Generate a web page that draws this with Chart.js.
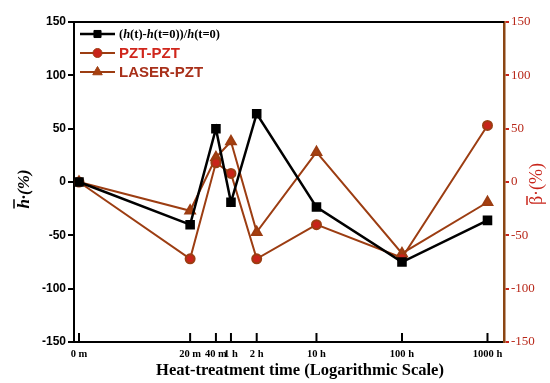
<!DOCTYPE html>
<html>
<head>
<meta charset="utf-8">
<script src="https://cdn.jsdelivr.net/npm/chart.js@4/dist/chart.umd.min.js"></script>
<style>
  html, body { margin: 0; padding: 0; background: #fff; }
  canvas { display: block; }
</style>
</head>
<body>
<canvas id="chart" width="550" height="383"></canvas>
<script>
// heat-treatment time in hours (0 m is drawn at 1 minute on the log axis)
const times = [0.0167, 0.333, 0.667, 1, 2, 10, 100, 1000];
const timeLabels = ['0 m', '20 m', '40 m', '1 h', '2 h', '10 h', '100 h', '1000 h'];

const hChange = [0, -40, 50, -19, 64, -23.5, -75, -36];
const pztPzt = [0, -72, 18, 8, -72, -40, -71, 53];
const laserPzt = [0, -27, 23, 38, -47, 28, -67, -19];

const yTicks = [-150, -100, -50, 0, 50, 100, 150];

const BROWN = '#9c3d12';
const RED = '#c8241a';

const pts = arr => arr.map((v, i) => ({ x: times[i], y: v }));

// rotated axis title with a bar over the first symbol
function barTitle(ctx, cx, cy, sym, rest, font, color) {
  ctx.save();
  ctx.translate(cx, cy);
  ctx.rotate(-Math.PI / 2);
  ctx.font = font;
  ctx.fillStyle = color;
  ctx.strokeStyle = color;
  ctx.textAlign = 'left';
  ctx.textBaseline = 'alphabetic';
  const w1 = ctx.measureText(sym).width;
  const w = w1 + ctx.measureText(rest).width;
  const x0 = -w / 2;
  ctx.fillText(sym, x0, 6);
  ctx.fillText(rest, x0 + w1, 6);
  ctx.lineWidth = 1.5;
  ctx.beginPath();
  ctx.moveTo(x0, -9);
  ctx.lineTo(x0 + w1, -9);
  ctx.stroke();
  ctx.restore();
}

const extras = {
  id: 'extras',
  afterDraw(chart) {
    const ctx = chart.ctx;
    const a = chart.chartArea;
    const xs = chart.scales.x;
    ctx.save();

    // top frame line
    ctx.strokeStyle = '#000';
    ctx.lineWidth = 2;
    ctx.beginPath();
    ctx.moveTo(a.left, a.top);
    ctx.lineTo(a.right, a.top);
    ctx.stroke();

    // inward x ticks
    times.forEach(t => {
      const x = xs.getPixelForValue(t);
      ctx.beginPath();
      ctx.moveTo(x, a.bottom);
      ctx.lineTo(x, a.bottom - 9);
      ctx.stroke();
    });

    // x title
    ctx.fillStyle = '#000';
    ctx.font = 'bold 16.5px "Liberation Serif"';
    ctx.textAlign = 'center';
    ctx.textBaseline = 'middle';
    ctx.fillText('Heat-treatment time (Logarithmic Scale)', 300, 371);

    barTitle(ctx, 23, 189, 'h', '\u00b7(%)', 'italic bold 17px "Liberation Serif"', '#000');
    barTitle(ctx, 536, 184, '\u03b2', '\u00b7(%)', '18px "Liberation Serif"', RED);

    // legend
    const rows = [
      { ds: 0, y: 34 },
      { ds: 1, y: 53, text: 'PZT-PZT', color: '#d0261c' },
      { ds: 2, y: 72, text: 'LASER-PZT', color: '#a8301a' }
    ];
    rows.forEach(r => {
      const d = chart.data.datasets[r.ds];
      ctx.strokeStyle = d.borderColor;
      ctx.lineWidth = d.borderWidth;
      ctx.beginPath();
      ctx.moveTo(80, r.y);
      ctx.lineTo(115, r.y);
      ctx.stroke();
      ctx.fillStyle = d.pointBackgroundColor;
      ctx.strokeStyle = d.pointBorderColor;
      ctx.lineWidth = 1;
      Chart.helpers.drawPoint(ctx, {
        pointStyle: d.pointStyle, radius: d.pointRadius, borderWidth: 1
      }, 97.5, r.y);
      ctx.textAlign = 'left';
      ctx.textBaseline = 'middle';
      if (r.text) {
        ctx.fillStyle = r.color;
        ctx.font = 'bold 15px "Liberation Sans"';
        ctx.fillText(r.text, 119, r.y + 1);
      } else {
        const parts = [['(', false], ['h', true], ['(t)-', false], ['h', true],
          ['(t=0))/', false], ['h', true], ['(t=0)', false]];
        let x = 119;
        ctx.fillStyle = '#000';
        parts.forEach(([s, it]) => {
          ctx.font = (it ? 'italic ' : '') + 'bold 12.5px "Liberation Serif"';
          ctx.fillText(s, x, r.y + 1);
          x += ctx.measureText(s).width;
        });
      }
    });
    ctx.restore();
  }
};

new Chart(document.getElementById('chart'), {
  type: 'line',
  data: {
    datasets: [
      {
        label: '(h(t)-h(t=0))/h(t=0)',
        data: pts(hChange),
        yAxisID: 'y',
        borderColor: '#000',
        borderWidth: 2.5,
        pointStyle: 'rect',
        pointRadius: 5,
        pointBackgroundColor: '#000',
        pointBorderColor: '#000',
        tension: 0
      },
      {
        label: 'PZT-PZT',
        data: pts(pztPzt),
        yAxisID: 'y1',
        borderColor: BROWN,
        borderWidth: 2,
        pointStyle: 'circle',
        pointRadius: 4.5,
        pointBackgroundColor: RED,
        pointBorderColor: BROWN,
        tension: 0
      },
      {
        label: 'LASER-PZT',
        data: pts(laserPzt),
        yAxisID: 'y1',
        borderColor: BROWN,
        borderWidth: 2,
        pointStyle: 'triangle',
        pointRadius: 5.5,
        pointBackgroundColor: '#a8400f',
        pointBorderColor: BROWN,
        tension: 0
      }
    ]
  },
  options: {
    responsive: false,
    animation: false,
    devicePixelRatio: 1,
    layout: { padding: { top: 22, left: 0, right: 0, bottom: 0 } },
    plugins: { legend: { display: false }, tooltip: { enabled: false } },
    scales: {
      x: {
        type: 'logarithmic',
        min: 0.0146,
        max: 1560,
        afterBuildTicks: s => { s.ticks = times.map(v => ({ value: v })); },
        afterFit: s => { s.height = 41; },
        ticks: {
          autoSkip: false,
          maxRotation: 0,
          padding: 6,
          color: '#000',
          font: { family: 'Liberation Serif', weight: 'bold', size: 10.5 },
          callback: (v, i) => timeLabels[i]
        },
        grid: { display: false, tickLength: 0 },
        border: { color: '#000', width: 2 }
      },
      y: {
        position: 'left',
        min: -150,
        max: 150,
        afterBuildTicks: s => { s.ticks = yTicks.map(v => ({ value: v })); },
        afterFit: s => { s.width = 74; },
        ticks: {
          color: '#000',
          padding: 2,
          font: { family: 'Liberation Sans', weight: 'bold', size: 12 }
        },
        grid: { drawOnChartArea: false, tickLength: 6, color: '#000', lineWidth: 2 },
        border: { color: '#000', width: 2 }
      },
      y1: {
        position: 'right',
        min: -150,
        max: 150,
        afterBuildTicks: s => { s.ticks = yTicks.map(v => ({ value: v })); },
        afterFit: s => { s.width = 46; },
        ticks: {
          color: '#b8281a',
          padding: 2,
          font: { family: 'Liberation Serif', size: 13 }
        },
        grid: { drawOnChartArea: false, tickLength: 5, color: '#c8241a', lineWidth: 2 },
        border: { color: '#8b4513', width: 2.5 }
      }
    }
  },
  plugins: [extras]
});
</script>
</body>
</html>
